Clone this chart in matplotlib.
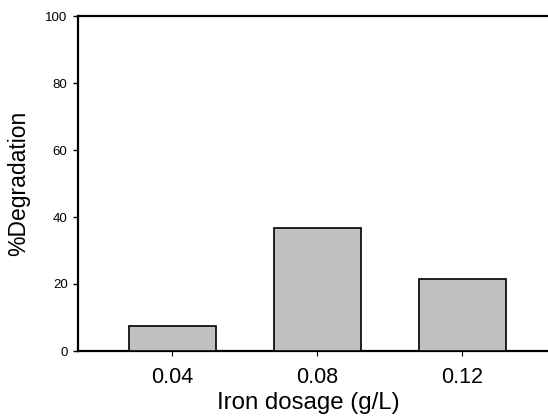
import matplotlib
matplotlib.use("Agg")
import matplotlib.pyplot as plt

# values
dosages = ["0.04", "0.08", "0.12"]
degradation = [7.4, 36.8, 21.6]
y_ticks = [0, 20, 40, 60, 80, 100]

plt.rcParams['font.family'] = ['Liberation Sans', 'DejaVu Sans']

fig = plt.figure(figsize=(5.48, 4.19), dpi=100)
ax = fig.add_axes([78 / 548, 1 - 351 / 419, 1 - 78 / 548, 335 / 419])

pos = list(range(len(dosages)))
ax.bar(pos, degradation, width=0.6, color="#c0c0c0", edgecolor="black", linewidth=1.2, zorder=3)

ax.set_xlim(-0.648, 2.59)
ax.set_ylim(0, 100)
ax.set_xticks(pos)
ax.set_xticklabels(dosages, fontsize=15.5)
ax.set_yticks(y_ticks)
ax.set_yticklabels([str(t) for t in y_ticks], fontsize=9.5)

for s in ["left", "bottom", "top"]:
    ax.spines[s].set_linewidth(1.6)
ax.spines["right"].set_visible(False)
ax.tick_params(axis="y", direction="out", length=3.5, width=1, pad=4)
ax.tick_params(axis="x", direction="out", length=3.5, width=0.8, pad=8)

# label sits a bit left of the axes centre in the original
ax.set_xlabel("Iron dosage (g/L)", fontsize=17.3, labelpad=3, x=0.489)
ax.set_ylabel("%Degradation", fontsize=16.5)
ax.yaxis.set_label_coords(-48 / 470, 0.5)

fig.savefig("out.png", dpi=100)
